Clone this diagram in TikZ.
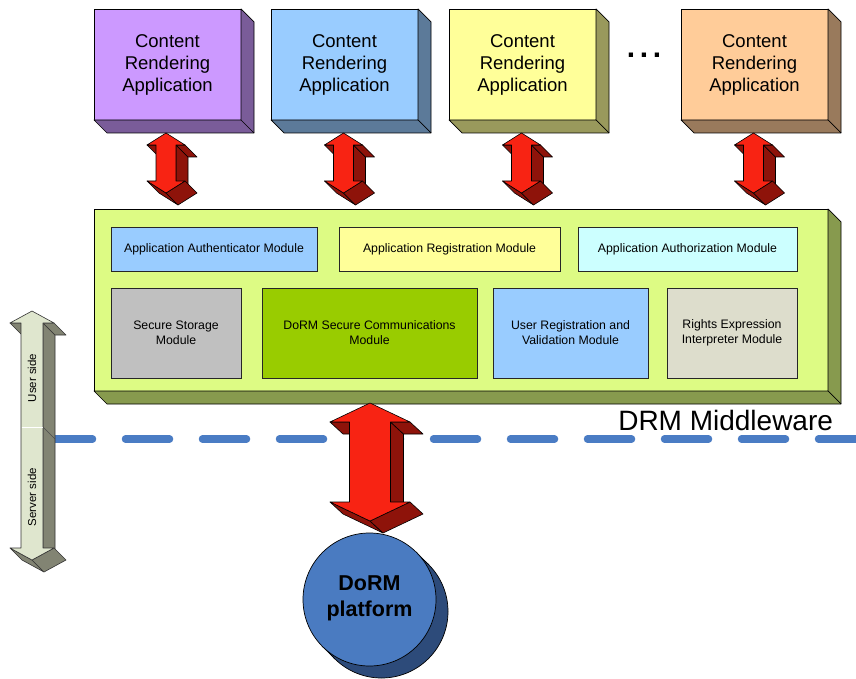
\documentclass[tikz,border=0pt]{standalone}
\usepackage{fontspec}
\setmainfont{Liberation Sans}
\usetikzlibrary{calc}
\definecolor{purpF}{HTML}{CC99FF}\definecolor{purpS}{HTML}{7A5C99}
\definecolor{bluF}{HTML}{99CCFF}\definecolor{bluS}{HTML}{5C7A99}
\definecolor{yelF}{HTML}{FFFF99}\definecolor{yelS}{HTML}{99995C}
\definecolor{orF}{HTML}{FFCC99}\definecolor{orS}{HTML}{997A5C}
\definecolor{mwF}{HTML}{DDFB84}\definecolor{mwS}{HTML}{879A4E}
\definecolor{modBlue}{HTML}{99CCFF}\definecolor{modYel}{HTML}{FFFF99}
\definecolor{modCyan}{HTML}{CCFFFF}\definecolor{modGray}{HTML}{C0C0C0}
\definecolor{modGreen}{HTML}{99CC00}\definecolor{modBeige}{HTML}{DDDDCC}
\definecolor{arrRed}{HTML}{F82313}\definecolor{arrDark}{HTML}{8E130A}
\definecolor{grF}{HTML}{DFE6CE}\definecolor{grS}{HTML}{828473}
\definecolor{circF}{HTML}{4A7BC1}\definecolor{circB}{HTML}{2D4B7A}
\definecolor{dashB}{HTML}{4A7CC4}
% 3D side faces of a box node: #1 node, #2 colour, #3 depth
\newcommand{\sidefaces}[3]{%
  \path[fill=#2,draw=black,line width=0.7pt,line join=round]
    (#1.north east) -- ++(#3,#3) -- ($(#1.south east)+(#3,#3)$)
    -- ($(#1.south west)+(#3,#3)$) -- (#1.south west) -- (#1.south east) -- cycle;
  \draw[line width=0.7pt] (#1.south east) -- ++(#3,#3);}
% 3D double block arrow: #1 cx, #2 ytop, #3 ybot, #4 head half width,
% #5 shaft half width, #6 head height, #7 dx, #8 dy, #9 kind (red/gray)
\newcommand{\blockarrow}[9]{%
  \begin{scope}[shift={(#1,#2)}]
    \pgfmathsetmacro\La{#3-#2}%
    \pgfmathsetmacro\Lb{#3-#2-#6}%
    \path[#9side] (#5,#6) -- (#5,\Lb) -- ({#5+#7},{\Lb+#8}) -- ({#5+#7},{#6+#8}) -- cycle;
    \path[#9side] (#5,#6) -- (#4,#6) -- ({#4+#7},{#6+#8}) -- ({#5+#7},{#6+#8}) -- cycle;
    \path[#9side] (-#4,#6) -- (-#5,#6) -- ({-#5+#7},{#6+#8}) -- ({-#4+#7},{#6+#8}) -- cycle;
    \path[#9side] (-#4,\Lb) -- (0,\La) -- (#7,{\La+#8}) -- ({-#4+#7},{\Lb+#8}) -- cycle;
    \path[#9side] (0,\La) -- (#4,\Lb) -- ({#4+#7},{\Lb+#8}) -- (#7,{\La+#8}) -- cycle;
    \path[#9front] (0,0) -- (-#4,#6) -- (-#5,#6) -- (-#5,\Lb) -- (-#4,\Lb) -- (0,\La)
      -- (#4,\Lb) -- (#5,\Lb) -- (#5,#6) -- (#4,#6) -- cycle;
  \end{scope}}
\begin{document}
\begin{tikzpicture}[x=1pt,y=-1pt,
  every node/.style={inner sep=0pt,outer sep=0pt},
  appbox/.style={draw=black,line width=0.7pt,minimum width=147pt,minimum height=111pt,
    align=center,font=\fontsize{18.5}{22}\selectfont},
  modbox/.style={draw=black!85,line width=0.9pt,align=center,
    font=\fontsize{12.3}{15}\selectfont},
  redfront/.style={fill=arrRed,draw=black,line width=0.6pt,line join=round},
  redside/.style={fill=arrDark,draw=black,line width=0.6pt,line join=round},
  grayfront/.style={fill=grF,draw=black!80,line width=0.6pt,line join=round},
  grayside/.style={fill=grS,draw=black!80,line width=0.6pt,line join=round},
  dashline/.style={draw=dashB,line width=7.5pt,line cap=round,dash pattern=on 44pt off 33pt}]
\useasboundingbox (0,0) rectangle (856,679);
\fill[white] (0,0) rectangle (856,679);

% user/server separation line
\coordinate (dashL) at (48.5,439);
\coordinate (dashR) at (870,439);
\draw[dashline] (dashL) -- (dashR);

% content rendering applications
\node[appbox,fill=purpF] (app1) at (167.5,64.5) {Content\\Rendering\\Application};
\node[appbox,fill=bluF]  (app2) at (344.5,64.5) {Content\\Rendering\\Application};
\node[appbox,fill=yelF]  (app3) at (522.5,64.5) {Content\\Rendering\\Application};
\node[appbox,fill=orF]   (app4) at (754.5,64.5) {Content\\Rendering\\Application};
\sidefaces{app1}{purpS}{13}
\sidefaces{app2}{bluS}{13}
\sidefaces{app3}{yelS}{13}
\sidefaces{app4}{orS}{13}
\node[font=\fontsize{30}{30}\selectfont\bfseries] (dots) at (644,55) {.\kern4.6pt.\kern4.6pt.};

% arrows between applications and middleware
\blockarrow{166}{133}{193}{19}{10}{12}{12}{12}{red}
\blockarrow{343.5}{133}{193}{19}{10}{12}{12}{12}{red}
\blockarrow{521.5}{133}{193}{19}{10}{12}{12}{12}{red}
\blockarrow{753.5}{133}{193}{19}{10}{12}{12}{12}{red}

% middleware
\node[draw=black,line width=0.7pt,fill=mwF,minimum width=734pt,minimum height=182pt] (mw) at (461,300) {};
\sidefaces{mw}{mwS}{13}
\node[modbox,fill=modBlue,minimum width=206pt,minimum height=44pt] (auth) at (214,249) {Application Authenticator Module};
\node[modbox,fill=modYel,minimum width=221pt,minimum height=44pt] (reg) at (449.5,249) {Application Registration Module};
\node[modbox,fill=modCyan,minimum width=219pt,minimum height=44pt] (authz) at (687.5,249) {Application Authorization Module};
\node[modbox,fill=modGray,minimum width=130pt,minimum height=90pt] (stor) at (176,333) {Secure Storage\\Module};
\node[modbox,fill=modGreen,minimum width=215pt,minimum height=90pt] (comm) at (369.5,333) {DoRM Secure Communications\\Module};
\node[modbox,fill=modBlue,minimum width=155pt,minimum height=90pt] (user) at (570.5,333) {User Registration and\\Validation Module};
\node[modbox,fill=modBeige,minimum width=130pt,minimum height=90pt] (rights) at (732,333) {Rights Expression\\Interpreter Module};
\node[font=\fontsize{28}{30}\selectfont,anchor=east] (mwlabel) at (833,420) {DRM Middleware};

% middleware to platform arrow
\blockarrow{370}{403}{521}{40}{20.5}{19}{13}{12}{red}

% DoRM platform
\fill[circB] (381.5,611.5) circle (66.5);
\fill[circB] (416.5,552.5) -- (428.5,564.5) -- (334.5,658.5) -- (322.5,646.5) -- cycle;
\draw[line width=0.7pt] (381.5,611.5) circle (66.5);
\draw[line width=0.7pt] (416.5,552.5) -- (428.5,564.5) (322.5,646.5) -- (334.5,658.5);
\node[circle,fill=circF,draw=black,line width=0.7pt,minimum size=133pt] (plat) at (369.5,599.5) {};
\node[font=\fontsize{21.5}{26}\selectfont\bfseries,align=center] (platlbl) at (369.5,598) {DoRM\\platform};

% user side / server side arrow
\blockarrow{32}{311}{560}{22}{11}{12}{12}{12}{gray}
\draw[white,line width=0.8pt] (21.5,427) -- (42.5,427);
\draw[black!70,line width=0.5pt] (43,427) -- (55,439);
\node[rotate=90,font=\fontsize{11.5}{13}\selectfont] (userside) at (32,378) {User side};
\node[rotate=90,font=\fontsize{11.5}{13}\selectfont] (serverside) at (32,497) {Server side};
\end{tikzpicture}
\end{document}
